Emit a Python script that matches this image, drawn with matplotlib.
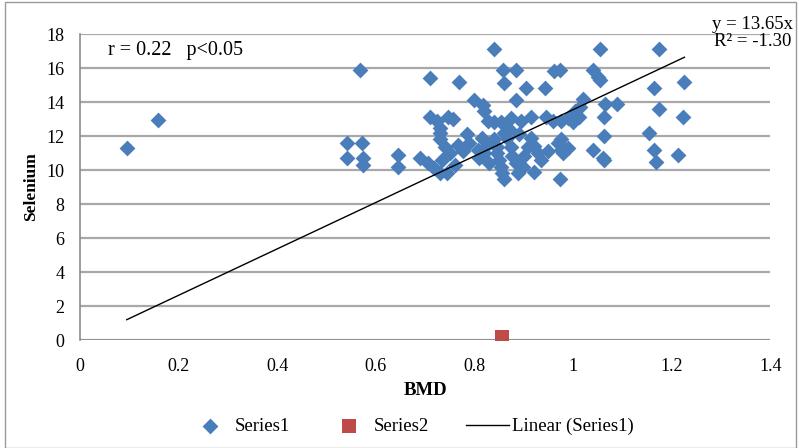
import matplotlib
matplotlib.use("Agg")
import matplotlib.pyplot as plt
from matplotlib.patches import Rectangle

# Series1 (BMD, Selenium)
bmd = [0.095, 0.159,
       0.542, 0.573, 0.542, 0.575, 0.575, 0.569, 0.646, 0.646,
       0.69, 0.705, 0.718, 0.73, 0.745, 0.711, 0.768,
       0.711, 0.725, 0.746, 0.756, 0.73, 0.73,
       0.73, 0.74, 0.75, 0.766, 0.776, 0.786, 0.79, 0.807, 0.735, 0.76,
       0.80, 0.817, 0.82, 0.827, 0.84, 0.815, 0.825, 0.81, 0.83, 0.82,
       0.84, 0.858, 0.884, 0.86,
       0.854, 0.874, 0.894, 0.884,
       0.84, 0.846, 0.846, 0.85, 0.854, 0.857, 0.86,
       0.867, 0.874, 0.877, 0.884, 0.888, 0.898, 0.90, 0.908,
       0.87, 0.89, 0.86,
       0.905, 0.943, 0.915, 0.945,
       0.915, 0.92, 0.93, 0.92, 0.935, 0.95,
       0.961, 0.974,
       0.96, 0.976, 0.99, 1.0, 1.012,
       0.97, 0.976, 0.98, 0.99, 0.975, 0.974,
       1.02, 1.005, 1.015,
       1.054, 1.04, 1.05, 1.055,
       1.065, 1.09, 1.063, 1.063, 1.04, 1.063, 1.06,
       1.174, 1.165, 1.226, 1.175, 1.224, 1.154, 1.165, 1.168, 1.213]
selenium = [11.3, 12.95,
            11.6, 11.6, 10.7, 10.7, 10.3, 15.9, 10.9, 10.2,
            10.7, 10.4, 10.1, 9.8, 9.8, 15.4, 15.2,
            13.1, 12.9, 13.1, 13.0, 12.5, 12.2,
            11.8, 11.35, 11.0, 11.5, 11.1, 12.1, 11.6, 11.2, 10.6, 10.3,
            14.1, 13.8, 13.5, 12.9, 12.8, 11.9, 11.5, 10.7, 10.4, 11.0,
            17.1, 15.9, 15.9, 15.1,
            12.8, 13.06, 12.9, 14.1,
            11.8, 11.35, 11.0, 10.6, 10.2, 9.8, 9.5,
            11.9, 11.35, 10.8, 10.4, 9.8, 10.2, 10.8, 11.35,
            12.4, 12.1, 12.2,
            14.8, 14.8, 13.1, 13.1,
            11.9, 11.4, 11.0, 9.9, 10.6, 11.1,
            15.8, 15.9,
            12.9, 12.9, 13.06, 12.8, 13.1,
            11.6, 11.2, 11.0, 11.3, 11.8, 9.5,
            14.2, 13.5, 13.7,
            17.1, 15.9, 15.5, 15.3,
            13.9, 13.9, 13.1, 12.0, 11.2, 10.6, 10.7,
            17.1, 14.8, 15.2, 13.6, 13.1, 12.2, 11.2, 10.5, 10.9]

# Series2
bmd2 = [0.857]
selenium2 = [0.2]

# trend line as printed on the chart
slope = 13.65
intercept = -0.1
trend_x = [min(bmd), max(bmd)]

plt.rcParams['font.family'] = ['Liberation Serif', 'DejaVu Serif']

fig = plt.figure(figsize=(7.99, 4.48), dpi=100)
ax = fig.add_axes([0.100, 0.241, 0.864, 0.683])

ax.scatter(bmd, selenium, marker='D', s=65, color='#4a7ebb', linewidths=0,
           label='Series1', zorder=3)
ax.scatter(bmd2, selenium2, marker='s', s=100, color='#be4b48', linewidths=0,
           label='Series2', zorder=3)
ax.plot(trend_x, [slope * x + intercept for x in trend_x], color='black', lw=1,
        label='Linear (Series1)', zorder=4)

ax.set_xlim(0, 1.4)
ax.set_ylim(0, 18)
ax.set_xticks([0, 0.2, 0.4, 0.6, 0.8, 1.0, 1.2, 1.4])
ax.set_xticklabels(['0', '0.2', '0.4', '0.6', '0.8', '1', '1.2', '1.4'])
ax.set_yticks(range(0, 19, 2))
ax.yaxis.grid(True, color='#a8a8a8', lw=1.6)
ax.set_axisbelow(True)
for s in ['top', 'right', 'bottom']:
    ax.spines[s].set_visible(False)
ax.spines['left'].set_color('#8c8c8c')
ax.spines['left'].set_linewidth(1.2)
ax.axhline(0, color='#8c8c8c', lw=1.8, zorder=2)
ax.tick_params(length=0, labelsize=13, pad=11)
ax.tick_params(axis='x', pad=13)

ax.set_xlabel('BMD', fontsize=13.5, fontweight='bold', labelpad=5)
ax.set_ylabel('Selenium', fontsize=12.5, fontweight='bold', labelpad=5)

ax.text(0.04, 0.93, 'r = 0.22   p<0.05', transform=ax.transAxes, fontsize=14.5)
fig.text(0.891, 0.935, 'y = 13.65x', fontsize=13.5)
fig.text(0.893, 0.897, 'R² = -1.30', fontsize=13.5)

ax.legend(loc='upper center', bbox_to_anchor=(0.48, -0.2), ncol=3, frameon=False,
          fontsize=13.5, handlelength=2.3, columnspacing=2.0, handletextpad=0.15)

fig.patches.append(Rectangle((0.006, 0.0), 0.99, 0.995, transform=fig.transFigure,
                             fill=False, edgecolor='#999999', lw=1))

fig.savefig('out.png', dpi=100)
